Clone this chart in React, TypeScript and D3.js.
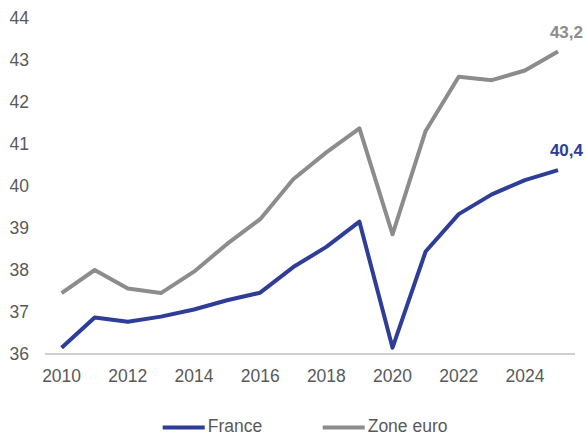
import React from 'react';
import * as d3 from 'd3';

const years = [2010, 2011, 2012, 2013, 2014, 2015, 2016, 2017, 2018, 2019, 2020, 2021, 2022, 2023, 2024, 2025];
const france = [36.15, 36.87, 36.77, 36.89, 37.06, 37.28, 37.46, 38.07, 38.55, 39.15, 36.15, 38.44, 39.33, 39.8, 40.14, 40.38];
const zoneEuro = [37.45, 38.0, 37.56, 37.45, 37.96, 38.62, 39.21, 40.16, 40.8, 41.37, 38.85, 41.31, 42.6, 42.52, 42.75, 43.2];
const yTicks = [36, 37, 38, 39, 40, 41, 42, 43, 44];
const xTickYears = [2010, 2012, 2014, 2016, 2018, 2020, 2022, 2024];
const seriesNames = ['France', 'Zone euro'];
const endLabels = ['40,4', '43,2'];

const width = 586;
const height = 435;
const blue = '#2E3D98';
const grey = '#8C8C8C';
const textColor = '#595959';
const font = 'Arial, "Liberation Sans", sans-serif';

const x = d3.scalePoint<number>().domain(years).range([61.6, 558]);
const y = d3.scaleLinear().domain([36, 44]).range([354, 18]);

const App = () => {
  const series = [
    { name: seriesNames[0], values: france, color: blue, label: endLabels[0] },
    { name: seriesNames[1], values: zoneEuro, color: grey, label: endLabels[1] },
  ];
  const line = d3.line<number>()
    .x((_, i) => x(years[i]) as number)
    .y(d => y(d));

  return (
    <svg width={width} height={height} style={{ position: 'absolute', left: 0, top: 0 }}>
      <rect width={width} height={height} fill="#fff" />
      {yTicks.map(t => (
        <text key={t} x={29} y={y(t)} dy="0.35em" textAnchor="end" fontFamily={font} fontSize={17.5} fill={textColor}>
          {t}
        </text>
      ))}
      <line x1={45} x2={575} y1={y(36)} y2={y(36)} stroke="#BFBFBF" strokeWidth={1.3} />
      {xTickYears.map(t => (
        <text key={t} x={x(t)} y={382} textAnchor="middle" fontFamily={font} fontSize={17.5} fill={textColor}>
          {t}
        </text>
      ))}
      {[series[1], series[0]].map(s => (
        <path key={s.name} d={line(s.values) || ''} fill="none" stroke={s.color} strokeWidth={4} strokeLinejoin="round" />
      ))}
      {series.map(s => (
        <text key={s.name + 'lbl'} x={583} y={y(s.values[s.values.length - 1]) - 14} textAnchor="end"
          fontFamily={font} fontSize={17} fontWeight="bold" fill={s.color}>
          {s.label}
        </text>
      ))}
      {series.map((s, i) => {
        const lx = i === 0 ? 162.7 : 322.7;
        return (
          <g key={s.name + 'leg'}>
            <line x1={lx} x2={lx + 42} y1={427.5} y2={427.5} stroke={s.color} strokeWidth={4} />
            <text x={lx + 45} y={432} fontFamily={font} fontSize={17.5} fill={textColor}>
              {s.name}
            </text>
          </g>
        );
      })}
    </svg>
  );
};

export default App;
